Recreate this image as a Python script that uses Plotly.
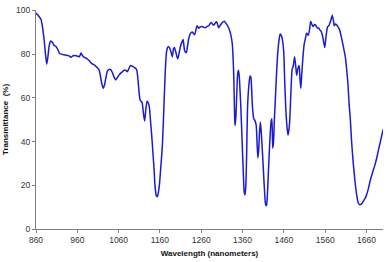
import plotly.graph_objects as go

wavelength = [860, 864, 868, 872, 876, 880, 883, 886, 889, 892, 896, 900, 904, 908, 913, 917, 922, 928, 934, 940,
              944, 950, 957, 962, 965, 969, 972, 977, 983, 989, 993, 997, 1002, 1006, 1010, 1013, 1016, 1019, 1023, 1026,
              1029, 1033, 1037, 1041, 1045, 1049, 1053, 1057, 1061, 1065, 1069, 1073, 1077, 1081, 1085, 1089, 1093, 1097, 1101, 1104,
              1107, 1109, 1112, 1115, 1117, 1120, 1123, 1126, 1129, 1131, 1134, 1137, 1140, 1143, 1146, 1148, 1151, 1154, 1156, 1159,
              1162, 1166, 1170, 1172, 1174, 1176, 1179, 1182, 1186, 1190, 1193, 1195, 1199, 1203, 1207, 1210, 1213, 1216, 1220, 1224,
              1227, 1230, 1234, 1238, 1241, 1244, 1247, 1250, 1254, 1258, 1262, 1266, 1270, 1274, 1278, 1281, 1284, 1287, 1290, 1294,
              1297, 1300, 1302, 1306, 1311, 1316, 1319, 1323, 1326, 1329, 1332, 1335, 1337, 1339, 1341, 1342, 1344, 1346, 1348, 1350,
              1352, 1354, 1356, 1359, 1362, 1364, 1366, 1368, 1370, 1372, 1375, 1378, 1380, 1382, 1384, 1387, 1390, 1393, 1395, 1397,
              1399, 1401, 1403, 1405, 1408, 1411, 1414, 1416, 1418, 1420, 1423, 1426, 1429, 1431, 1433, 1435, 1437, 1439, 1442, 1445,
              1448, 1451, 1454, 1457, 1460, 1462, 1465, 1468, 1470, 1472, 1474, 1477, 1480, 1483, 1486, 1489, 1491, 1494, 1497, 1499,
              1501, 1503, 1506, 1509, 1512, 1515, 1519, 1522, 1525, 1528, 1531, 1534, 1537, 1541, 1544, 1547, 1550, 1553, 1556, 1559,
              1562, 1566, 1569, 1571, 1574, 1577, 1580, 1582, 1585, 1588, 1591, 1595, 1599, 1603, 1606, 1609, 1612, 1615, 1618, 1621,
              1624, 1628, 1632, 1636, 1640, 1644, 1648, 1652, 1656, 1660, 1664, 1669, 1675, 1680, 1685, 1690, 1695, 1700]

transmittance = [98.8, 98, 97, 96, 92, 86, 80, 75.4, 79, 84, 86, 85.3, 84, 83.6, 82, 80.3, 80, 79.7, 79.5, 79.2,
                 78.5, 79.3, 79.3, 79, 78.8, 80.5, 79.5, 78.5, 78, 77, 76, 75.5, 75, 74.2, 73.5, 72.6, 70, 66.7, 64.4, 66,
                 69, 72.3, 73, 72.9, 71.5, 69.5, 68.2, 69.3, 70.4, 71.3, 71.9, 72.6, 72.6, 72, 73.5, 74.8, 74.5, 74.1, 73.5, 72.6,
                 68, 63.7, 59, 58.3, 57.8, 53, 49.4, 55, 58.5, 58, 56.3, 50, 43, 35, 26.7, 20, 15.4, 14.8, 16.5, 20.7,
                 28, 38.5, 57.8, 68, 76, 81, 83.2, 83.3, 81.5, 78.8, 82.5, 83, 80.5, 77.8, 81, 83.7, 85.5, 86.7, 81.5, 80.7,
                 84, 87.4, 89.5, 90.1, 89.5, 88.9, 91, 93, 91.9, 92.5, 92.6, 92.3, 92.1, 92.7, 93, 93.8, 94.5, 93.8, 93.3, 94.2,
                 94.8, 93.5, 92.1, 93.2, 94.5, 95.1, 94.3, 93.3, 92.2, 90.7, 88.5, 85, 79, 68, 50, 47.4, 52, 62, 70.5, 72.6,
                 70, 63, 55, 40, 25, 17, 15.6, 20, 35, 55, 65, 70, 69.5, 64, 56, 50.5, 49.6, 47.5, 40, 32.6,
                 36, 44, 49, 45, 35.6, 25, 15, 11, 10.7, 15, 28, 40, 49, 50.4, 37, 40, 50, 57.8, 70, 80,
                 86, 89.2, 88.5, 86, 80, 68, 54, 46, 43, 45, 49, 62, 73, 74.8, 78.8, 74, 70.4, 73.5, 74.8, 69,
                 64.4, 70, 78, 84.4, 87, 89.6, 88.6, 91, 95.1, 93.5, 92.6, 93.5, 93.3, 91.9, 92, 91.1, 90.5, 88.9, 86, 83,
                 88, 92.6, 93, 94, 95.5, 97.8, 95.5, 93, 93.8, 93.3, 92.5, 91.1, 88, 84.4, 81.5, 78.5, 73, 66.7, 57, 50,
                 40, 30, 22.2, 16, 12, 11.1, 11.5, 12.6, 13.8, 15.5, 18, 22.2, 26, 29, 32.6, 37, 41, 45.5]

x_ticks = [860, 960, 1060, 1160, 1260, 1360, 1460, 1560, 1660]
y_ticks = [0, 20, 40, 60, 80, 100]

fig = go.Figure()
fig.add_trace(go.Scatter(
    x=wavelength, y=transmittance, mode="lines",
    line=dict(color="#1a1ad6", width=1.5, shape="spline", smoothing=0.6),
    showlegend=False,
))

font_family = "Liberation Sans, Arial, sans-serif"
fig.update_layout(
    width=388, height=262,
    margin=dict(l=35, r=5, t=5, b=32),
    paper_bgcolor="white", plot_bgcolor="white",
    font=dict(family=font_family, size=8, color="#333333"),
    xaxis=dict(
        range=[860, 1700], tickvals=x_ticks, ticktext=[str(v) for v in x_ticks],
        showgrid=False, zeroline=False, showline=True, linecolor="#7f7f7f", linewidth=1,
        ticks="outside", ticklen=3, tickcolor="#7f7f7f", tickfont=dict(size=8.5, color="#333333"),
        title=dict(text="<b>Wavelength (nanometers)</b>", font=dict(size=8, color="#111111"), standoff=6),
    ),
    yaxis=dict(
        range=[0, 100.2], tickvals=y_ticks, ticktext=[str(v) for v in y_ticks],
        showgrid=False, zeroline=False,
        showline=True, linecolor="#7f7f7f", linewidth=1,
        ticks="outside", ticklen=3, tickcolor="#7f7f7f", tickfont=dict(size=8.5, color="#333333"),
        title=dict(text="<b>Transmittance  (%)</b>", font=dict(size=8, color="#111111"), standoff=6),
    ),
)

fig.write_html("out.html")
